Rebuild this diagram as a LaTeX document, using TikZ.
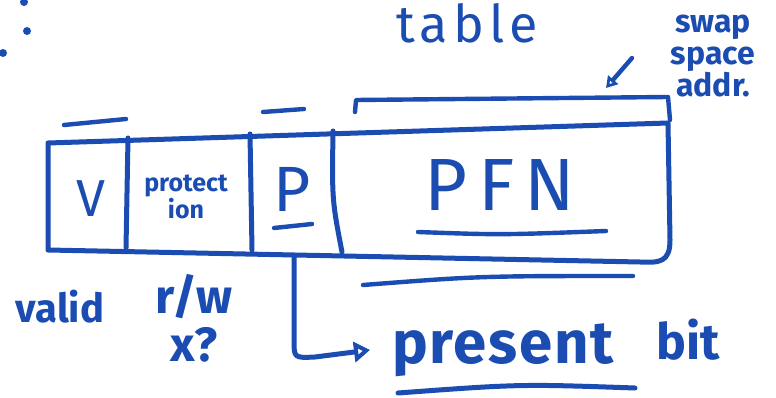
\documentclass[tikz,border=0pt]{standalone}
\usepackage{fontspec}
\setmainfont{Fira Sans}
\usetikzlibrary{arrows.meta}
\definecolor{ink}{RGB}{26,76,178}
\begin{document}
\begin{tikzpicture}[x=1pt,y=-1pt,
  pen/.style={draw=ink,line width=5pt,line cap=round,line join=round},
  thin pen/.style={draw=ink,line width=4.4pt,line cap=round,line join=round},
  lbl/.style={text=ink,inner sep=0pt,align=center,font=\fontsize{#1}{#1}\selectfont},
  lbl/.default=30,
  heavy/.style={font=\fontsize{#1}{#1}\selectfont\bfseries}]
\useasboundingbox (0,0) rectangle (776,398);

% stray dots
\foreach \p in {(24,2),(27,31),(3,53)} \fill[ink] \p circle (4pt);

% heading and side note
\node[lbl=52] (table) at (467,23) {\addfontfeature{LetterSpace=10}table};
\node[lbl,heavy=32] (swap) at (713,56)
  {\fontsize{32}{31}\selectfont\bfseries swap\\space\\addr.};

% page table entry outline (hand-drawn slant)
\draw[pen] (48,143) -- (668,123) -- (670,240)
  .. controls (670,262) and (660,263) .. (640,262) -- (48,250) -- cycle;
\draw[pen] (128,138) -- (126,248);
\draw[pen] (250,134) -- (252,250);
\draw[pen] (333,131) .. controls (332,200) .. (342,252);

% field labels
\node[lbl=52] (v) at (91,199) {V};
\node[lbl,heavy=25] (prot) at (186,197) {\fontsize{25}{30}\selectfont\bfseries protect\\ion};
\node[lbl=64] (p) at (292,189) {P};
\node[lbl=74] (pfn) at (500,185) {\addfontfeature{LetterSpace=14}PFN};

% underlines in the cells
\draw[thin pen] (274,228) -- (312,224);
\draw[thin pen] (418,232) .. controls (500,235) .. (606,231);

% marks above the fields
\draw[thin pen] (64,125) -- (126,119);
\draw[thin pen] (263,112) -- (304,109);
\draw[thin pen] (355,112) -- (356,100) -- (668,97) -- (670,120);

% arrow from the side note
\coordinate (swaptip) at (606,88);
\draw[thin pen,-{Triangle[open,length=11pt,width=13pt]}] (632,58) -- (swaptip);

% line under the entry
\draw[thin pen] (363,285) .. controls (480,276) .. (633,276);

% bottom labels
\node[lbl,heavy=40] (valid) at (60,307) {valid};
\node[lbl,heavy=48] (rw) at (194,318) {\fontsize{48}{52}\selectfont\bfseries r/w\\x?};
\node[lbl,heavy=60,anchor=west] (present) at (392,350) {\addfontfeature{LetterSpace=3}present};
\node[lbl,heavy=50,anchor=west] (bit) at (656,340) {bit};
\draw[pen] (398,393) .. controls (520,384) .. (635,388);

% present-bit connector
\coordinate (pbot) at (294,256);
\draw[pen,-{Triangle[open,length=16pt,width=20pt]}]
  (pbot) -- (294,340) .. controls (294,358) .. (315,357) -- (present.west -| 370,356);
\end{tikzpicture}
\end{document}
